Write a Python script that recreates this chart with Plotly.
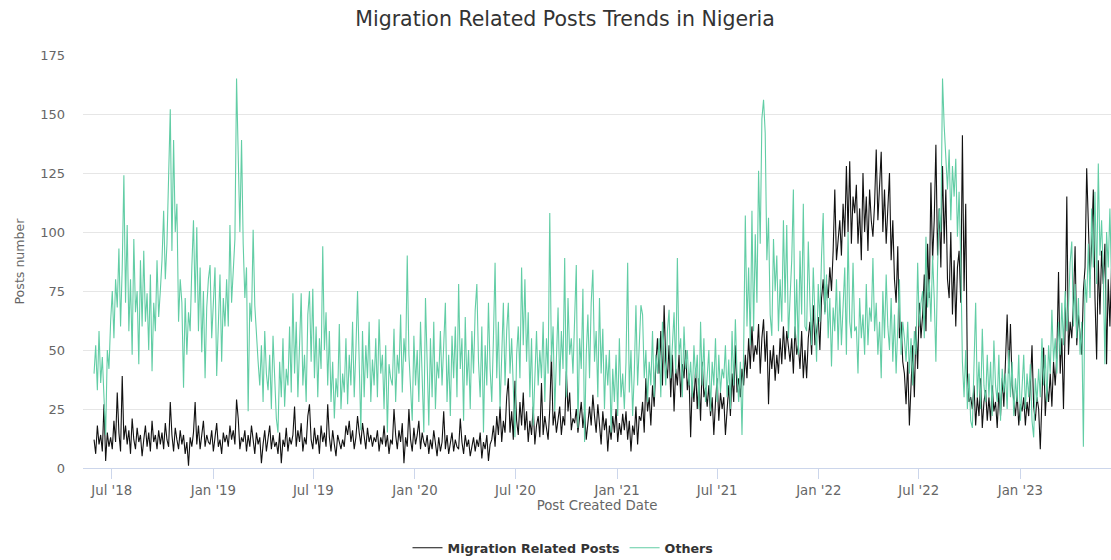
import pandas as pd
import plotly.graph_objects as go

# ---- data (3-day sampling, rows of ~30 days) ----
start_date = "2018-05-30"
step = "3D"

migration = [
    12, 6, 18, 10, 14, 7, 27, 3, 15, 9,
    13, 8, 20, 11, 32, 15, 7, 39, 12, 18,
    10, 16, 6, 21, 12, 8, 17, 11, 14, 5,
    12, 18, 9, 15, 7, 20, 11, 14, 8, 16,
    10, 15, 8, 19, 12, 9, 28, 14, 7, 17,
    12, 8, 16, 10, 14, 6, 11, 1, 13, 9,
    15, 28, 10, 18, 8, 13, 20, 9, 14, 11,
    10, 16, 7, 13, 19, 9, 12, 6, 15, 11,
    14, 9, 18, 12, 16, 10, 29, 21, 8, 13,
    11, 16, 7, 14, 9, 18, 12, 6, 15, 10,
    13, 2, 10, 16, 7, 12, 18, 8, 14, 9,
    11, 6, 15, 2, 12, 9, 17, 7, 13, 10,
    14, 26, 9, 16, 11, 19, 7, 13, 10, 22,
    27, 12, 8, 17, 10, 14, 6, 18, 11, 15,
    9, 27, 13, 7, 16, 10, 5, 14, 11, 8,
    12, 9, 18, 14, 20, 11, 16, 8, 13, 22,
    15, 10, 19, 12, 8, 17, 11, 14, 9, 13,
    11, 16, 7, 13, 10, 18, 9, 14, 6, 12,
    10, 25, 14, 8, 16, 11, 19, 2, 13, 9,
    25, 12, 7, 17, 10, 14, 20, 8, 15, 11,
    9, 14, 6, 12, 8, 16, 10, 5, 13, 7,
    11, 24, 8, 14, 6, 10, 15, 7, 12, 9,
    8, 21, 11, 6, 14, 9, 12, 5, 10, 13,
    7, 12, 9, 15, 4, 11, 8, 14, 3, 10,
    12, 18, 9, 22, 14, 26, 11, 20, 15, 30,
    38, 15, 24, 12, 37, 20, 14, 28, 18, 32,
    16, 24, 11, 20, 14, 26, 10, 18, 22, 13,
    36, 14, 22, 17, 12, 25, 48, 18, 24, 15,
    20, 26, 14, 22, 18, 41, 24, 32, 16, 21,
    19, 25, 15, 22, 28, 17, 24, 12, 21, 26,
    18, 31, 22, 15, 27, 20, 10, 24, 16, 21,
    7, 18, 12, 22, 15, 25, 11, 19, 14, 23,
    16, 24, 12, 20, 7, 18, 14, 26, 10, 22,
    20, 28, 15, 38, 24, 30, 18, 35, 26, 44,
    55, 40, 58, 35, 69, 45, 38, 52, 30, 48,
    24, 42, 35, 48, 30, 44, 38, 50, 33, 40,
    13, 36, 28, 42, 25, 38, 20, 45, 30, 34,
    26, 35, 22, 30, 14, 28, 38, 20, 32, 25,
    30, 14, 26, 35, 22, 40, 28, 52, 32, 38,
    30, 42, 35, 48, 38, 55, 42, 60, 45, 52,
    48, 61, 40, 55, 63, 45, 58, 27, 50, 42,
    52, 37, 48, 40, 55, 44, 60, 46, 58, 50,
    45, 55, 40, 60, 48, 52, 42, 58, 38, 50,
    38, 55, 62, 48, 69, 52, 58, 64, 50, 72,
    80, 66, 78, 72, 85, 75, 92, 118, 88, 96,
    105, 90, 112, 98, 128, 100, 130, 95, 115, 108,
    120, 95, 110, 88, 125, 100, 115, 92, 118, 105,
    98, 112, 135, 105, 122, 134, 100, 118, 95, 110,
    125, 88, 105, 80, 70, 94, 55, 62, 45, 40,
    27, 45, 18, 35, 52, 30, 60, 42, 70, 55,
    65, 82, 58, 95, 72, 121, 88, 105, 137, 90,
    110, 85, 128, 95, 118, 80, 72, 100, 65, 88,
    60, 85, 92, 70, 141, 75, 112, 40, 28, 30,
    25, 35, 18, 30, 22, 38, 17, 28, 33, 20,
    30, 20, 35, 24, 28, 17, 32, 22, 38, 26,
    45, 65, 40, 61, 35, 28, 22, 32, 18, 27,
    24, 30, 18, 28, 22, 35, 52, 26, 20, 30,
    25, 8, 30, 51, 22, 35, 28, 40, 26, 45,
    35, 48, 83, 40, 55, 25, 60, 115, 48, 62,
    55, 70, 94, 52, 65, 58, 48, 75, 85, 127,
    100, 80, 95, 118, 72, 46, 88, 65, 92, 78,
    95, 44, 80, 60, 85, 70, 90, 75, 65, 80,
]

others = [
    40, 52, 33, 58, 36, 47, 30, 14, 50, 42,
    62, 75, 55, 80, 68, 93, 60, 85, 124, 70,
    103, 58, 80, 48, 97, 66, 75, 44, 88, 60,
    92, 62, 74, 50, 82, 41, 70, 58, 88, 64,
    75, 88, 109, 80, 95, 121, 152, 92, 139, 100,
    112, 62, 80, 70, 34, 72, 48, 66, 58, 85,
    105, 70, 102, 58, 85, 49, 75, 38, 68, 80,
    86, 55, 70, 85, 39, 64, 82, 45, 72, 60,
    80, 60, 103, 70, 85, 97, 165, 136, 100, 139,
    95, 72, 85, 24, 70, 62, 101, 69, 55, 45,
    35, 52, 28, 58, 40, 33, 48, 25, 56, 38,
    21, 15, 45, 30, 55, 26, 42, 35, 60, 32,
    74, 40, 62, 30, 55, 74, 35, 48, 28, 65,
    75, 45, 76, 38, 60, 30, 55, 42, 94, 50,
    66, 35, 58, 28, 45, 21, 38, 30, 61, 25,
    40, 32, 55, 27, 48, 35, 62, 30, 50, 75,
    45, 16, 58, 30, 52, 38, 62, 28, 46, 35,
    55, 30, 63, 40, 48, 25, 52, 15, 44, 38,
    35, 59, 28, 48, 40, 65, 32, 55, 45, 90,
    48, 30, 20, 56, 35, 50, 28, 62, 40, 15,
    72, 40, 18, 55, 30, 62, 25, 45, 38, 58,
    35, 52, 70, 28, 48, 22, 56, 38, 60, 30,
    78, 42, 55, 20, 64, 35, 50, 25, 58, 40,
    67, 78, 45, 30, 60, 15, 52, 35, 70, 42,
    28, 55, 87, 38, 62, 25, 48, 70, 35, 58,
    70, 40, 55, 32, 13, 48, 60, 38, 85, 52,
    80, 45, 66, 30, 55, 18, 42, 58, 35, 50,
    38, 62, 28, 55, 40, 108, 45, 60, 24, 52,
    68, 35, 58, 42, 89, 30, 72, 48, 55, 40,
    60, 86, 17, 55, 42, 76, 11, 48, 65, 38,
    70, 84, 45, 58, 30, 72, 40, 59, 25, 48,
    35, 50, 15, 42, 28, 48, 22, 55, 30, 40,
    25, 45, 87, 32, 50, 22, 40, 69, 35, 55,
    69, 65, 38, 50, 28, 45, 35, 58, 30, 48,
    40, 55, 30, 62, 45, 35, 58, 67, 38, 52,
    66, 40, 89, 48, 55, 30, 60, 42, 50, 35,
    45, 30, 52, 38, 48, 25, 62, 35, 55, 28,
    40, 50, 24, 45, 35, 55, 28, 48, 32, 42,
    38, 52, 30, 46, 25, 58, 35, 63, 40, 28,
    45, 14, 50, 107, 60, 85, 52, 109, 58, 99,
    70, 126, 95, 148, 156, 142, 88, 106, 65, 56,
    97, 75, 90, 58, 80, 62, 105, 70, 103, 55,
    72, 88, 118, 55, 80, 48, 92, 65, 112, 60,
    58, 96, 70, 52, 85, 60, 45, 78, 62, 90,
    108, 65, 82, 55, 72, 43, 68, 58, 80, 50,
    75, 52, 68, 85, 48, 100, 62, 55, 87, 58,
    60, 40, 72, 55, 65, 48, 78, 52, 68, 62,
    89, 58, 70, 48, 62, 38, 75, 55, 82, 60,
    50, 72, 45, 65, 40, 58, 80, 48, 62, 55,
    45, 62, 40, 55, 35, 58, 48, 87, 60, 70,
    75, 55, 98, 68, 80, 62, 90, 72, 45, 85,
    110, 100, 165, 145, 133, 118, 135, 105, 128, 115,
    131, 98, 117, 88, 45, 30, 50, 25, 40, 20,
    17, 42, 70, 30, 45, 25, 59, 35, 28, 48,
    30, 45, 22, 54, 35, 28, 48, 20, 42, 32,
    40, 25, 50, 30, 45, 22, 38, 28, 48, 20,
    35, 48, 25, 40, 30, 44, 20, 13, 38, 28,
    42, 30, 55, 35, 48, 28, 52, 40, 67, 45,
    55, 40, 62, 48, 70, 52, 75, 58, 68, 87,
    96, 60, 78, 55, 72, 48, 62, 9, 80, 70,
    95, 72, 110, 85, 117, 78, 129, 90, 105, 82,
    44, 100, 85, 110, 78, 95, 88, 100, 80, 92,
]

tick_dates = ["2018-07-01", "2019-01-01", "2019-07-01", "2020-01-01", "2020-07-01",
              "2021-01-01", "2021-07-01", "2022-01-01", "2022-07-01", "2023-01-01"]
tick_labels = ["Jul '18", "Jan '19", "Jul '19", "Jan '20", "Jul '20",
               "Jan '21", "Jul '21", "Jan '22", "Jul '22", "Jan '23"]

dates = pd.date_range(start_date, periods=len(others), freq=step)

FONT = "DejaVu Sans"

fig = go.Figure()
fig.add_trace(go.Scatter(x=dates, y=migration, mode="lines", name="Migration Related Posts",
                         line=dict(color="#111111", width=1.1)))
fig.add_trace(go.Scatter(x=dates, y=others, mode="lines", name="Others",
                         line=dict(color="#62cda5", width=1.1)))

fig.update_layout(
    width=1111, height=560,
    margin=dict(l=83, r=0, t=55, b=92, autoexpand=False),
    paper_bgcolor="white", plot_bgcolor="white",
    font=dict(family=FONT, color="#666666", size=13),
    title=dict(text="Migration Related Posts Trends in Nigeria",
               x=565 / 1111, xref="container", xanchor="center",
               y=1 - 19 / 560, yref="container", yanchor="middle",
               font=dict(family=FONT, size=20.5, color="#333333")),
    legend=dict(orientation="h", x=563 / 1111, xref="container", xanchor="center",
                y=1 - 548 / 560, yref="container", yanchor="middle",
                font=dict(family=FONT, size=12.7, color="#333333", weight="bold"),
                itemwidth=30),
    showlegend=True,
)

fig.update_xaxes(
    type="date",
    range=["2018-05-10", "2023-06-14"],
    tickvals=tick_dates, ticktext=tick_labels,
    ticks="outside", ticklen=10, tickcolor="#ccd6eb",
    showline=True, linecolor="#ccd6eb", linewidth=1,
    showgrid=False, zeroline=False,
    tickfont=dict(size=13.3, color="#666666"),
    title=dict(text="Post Created Date", font=dict(size=13.3, color="#666666"), standoff=2),
)
fig.update_yaxes(
    range=[0, 175], dtick=25, tick0=0,
    showgrid=True, gridcolor="#e6e6e6", gridwidth=1,
    zeroline=False, showline=False, ticks="",
    ticklabelstandoff=17,
    tickfont=dict(size=13, color="#666666"),
    title=dict(text="Posts number", font=dict(size=12.6, color="#666666"), standoff=12),
)

fig.write_html(
    "out.html",
    config={"displayModeBar": False},
    post_script="document.body.style.margin='0';document.body.style.padding='0';"
                "document.body.style.overflow='hidden';",
)
